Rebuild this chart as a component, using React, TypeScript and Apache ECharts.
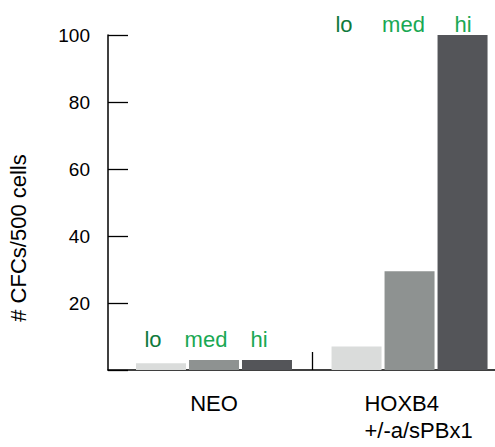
import React, { useEffect, useRef } from "react";
import * as echarts from "echarts";

const categories = ["NEO", "HOXB4\n+/-a/sPBx1"];
const levels = ["lo", "med", "hi"];
const loValues = [2, 7];
const medValues = [3, 29.5];
const hiValues = [3, 100];
const yTicks = [20, 40, 60, 80, 100];
const yTitle = "# CFCs/500 cells";

const FONT = "'Liberation Sans', Arial, Helvetica, sans-serif";
const barColors = ["#dadcdb", "#8e9291", "#545559"];
const levelColors = ["#107a3c", "#19a853", "#19a853"];

export default function App() {
  const ref = useRef<HTMLDivElement>(null);
  useEffect(() => {
    if (!ref.current) return;
    document.body.style.margin = "0";
    const chart = echarts.init(ref.current, null, { renderer: "svg" });
    const toData = (arr: number[]) => arr.map((v, i) => [i, v]);
    const seriesVals = [loValues, medValues, hiValues];
    const levelPos = [
      { xs: [153, 206, 259], y: 339.5 },
      { xs: [344, 403.5, 463], y: 24 },
    ];
    const graphics: any[] = [];
    levelPos.forEach((g) => {
      levels.forEach((lv, i) => {
        graphics.push({
          type: "text",
          x: g.xs[i],
          y: g.y,
          style: {
            text: lv,
            fill: levelColors[i],
            font: `22px ${FONT}`,
            textAlign: "center",
            textVerticalAlign: "middle",
          },
        });
      });
    });
    graphics.push({
      type: "text",
      x: 18,
      y: 238,
      rotation: Math.PI / 2,
      style: {
        text: yTitle,
        fill: "#000",
        font: `22px ${FONT}`,
        textAlign: "center",
        textVerticalAlign: "middle",
      },
    });
    chart.setOption({
      animation: false,
      grid: { left: 108, right: 0, top: 35, bottom: 77, outerBoundsMode: "none" },
      xAxis: {
        type: "value",
        min: -0.542,
        max: 1.437,
        splitLine: { show: false },
        axisLine: { show: true, onZero: false, lineStyle: { color: "#000", width: 1.5 } },
        axisTick: {
          show: true,
          customValues: [0.5],
          inside: true,
          length: 18,
          lineStyle: { color: "#000", width: 1.3 },
        },
        axisLabel: {
          customValues: categories.map((_, i) => i),
          margin: 20,
          color: "#000",
          fontSize: 22,
          fontFamily: FONT,
          lineHeight: 27,
          formatter: (v: number) => {
            const i = Math.round(v);
            const lines = (categories[i] || "").split("\n");
            if (lines.length === 1) return `{n|${lines[0]}}`;
            return lines.map((l) => `{l|${l}}`).join("\n");
          },
          rich: {
            n: { fontSize: 22, fontFamily: FONT, color: "#000", lineHeight: 27 },
            l: {
              fontSize: 22,
              fontFamily: FONT,
              color: "#000",
              lineHeight: 27,
              align: "left",
              padding: [0, 0, 0, 18],
            },
          },
        },
      },
      yAxis: {
        type: "value",
        min: 0,
        max: 100,
        interval: 20,
        splitLine: { show: false },
        axisLine: { show: true, onZero: false, lineStyle: { color: "#000", width: 1.5 } },
        axisTick: {
          show: true,
          inside: true,
          length: 20,
          lineStyle: { color: "#000", width: 1.3 },
        },
        axisLabel: {
          margin: 18,
          color: "#000",
          fontSize: 19,
          fontFamily: FONT,
          formatter: (v: number) => (yTicks.includes(v) ? String(v) : ""),
        },
      },
      series: seriesVals.map((vals, k) => ({
        type: "bar",
        name: levels[k],
        data: toData(vals),
        barWidth: 50,
        barGap: "6%",
        itemStyle: { color: barColors[k] },
      })),
      graphic: graphics,
    });
    return () => chart.dispose();
  }, []);
  return (
    <div
      ref={ref}
      style={{ width: 495, height: 447, position: "absolute", left: 0, top: 0 }}
    />
  );
}
